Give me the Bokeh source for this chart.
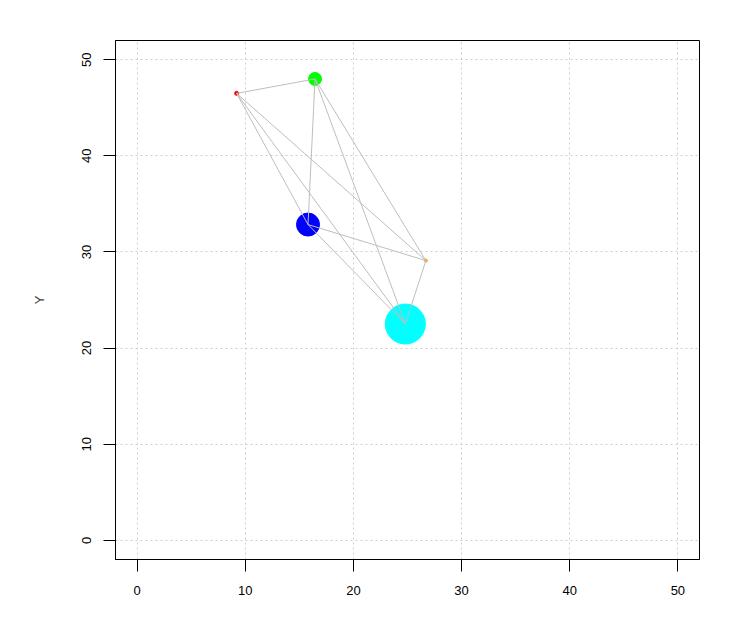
from itertools import combinations
from bokeh.plotting import figure
from bokeh.models import FixedTicker, Range1d
from bokeh.embed import file_html
from bokeh.resources import INLINE

# --- data ---
node_x = [9.2, 16.45, 15.8, 26.7, 24.8]
node_y = [46.5, 48.0, 32.85, 29.1, 22.5]
node_size = [4, 13, 23, 3, 40]
node_color = ["#FF0000", "#00FF00", "#0000FF", "#FFA500", "#00FFFF"]
ticks = [0, 10, 20, 30, 40, 50]

edges = list(combinations(range(len(node_x)), 2))
x0 = [node_x[a] for a, b in edges]
y0 = [node_y[a] for a, b in edges]
x1 = [node_x[b] for a, b in edges]
y1 = [node_y[b] for a, b in edges]

p = figure(width=756, height=621, output_backend="svg", toolbar_location=None,
           x_range=Range1d(-2, 52), y_range=Range1d(-2, 52),
           min_border_left=115, min_border_right=57, min_border_top=40, min_border_bottom=62)

p.outline_line_color = "black"
p.outline_line_width = 1
p.background_fill_color = "white"
p.border_fill_color = "white"

for ax in (p.xaxis[0], p.yaxis[0]):
    ax.ticker = FixedTicker(ticks=ticks)
    ax.axis_line_color = "black"
    ax.major_tick_line_color = "black"
    ax.major_tick_out = 12
    ax.major_tick_in = 0
    ax.minor_tick_line_color = None
    ax.major_label_text_font = "Liberation Sans"
    ax.major_label_text_font_size = "13px"
    ax.major_label_text_color = "black"

p.xaxis.major_label_standoff = 14
p.yaxis.major_label_standoff = 12
p.yaxis.major_label_orientation = "vertical"
p.yaxis.axis_label = "Y"
p.yaxis.axis_label_text_font = "Liberation Sans"
p.yaxis.axis_label_text_font_style = "normal"
p.yaxis.axis_label_text_font_size = "13px"
p.yaxis.axis_label_standoff = 33

for g in (p.xgrid[0], p.ygrid[0]):
    g.ticker = FixedTicker(ticks=ticks)
    g.grid_line_color = "#cfcfcf"
    g.grid_line_dash = "2 3"
    g.grid_line_width = 1

p.scatter(node_x, node_y, size=node_size, fill_color=node_color, line_color=node_color)
p.segment(x0, y0, x1, y1, line_color="#bebebe", line_width=1)

open("out.html", "w").write(file_html(p, INLINE))
